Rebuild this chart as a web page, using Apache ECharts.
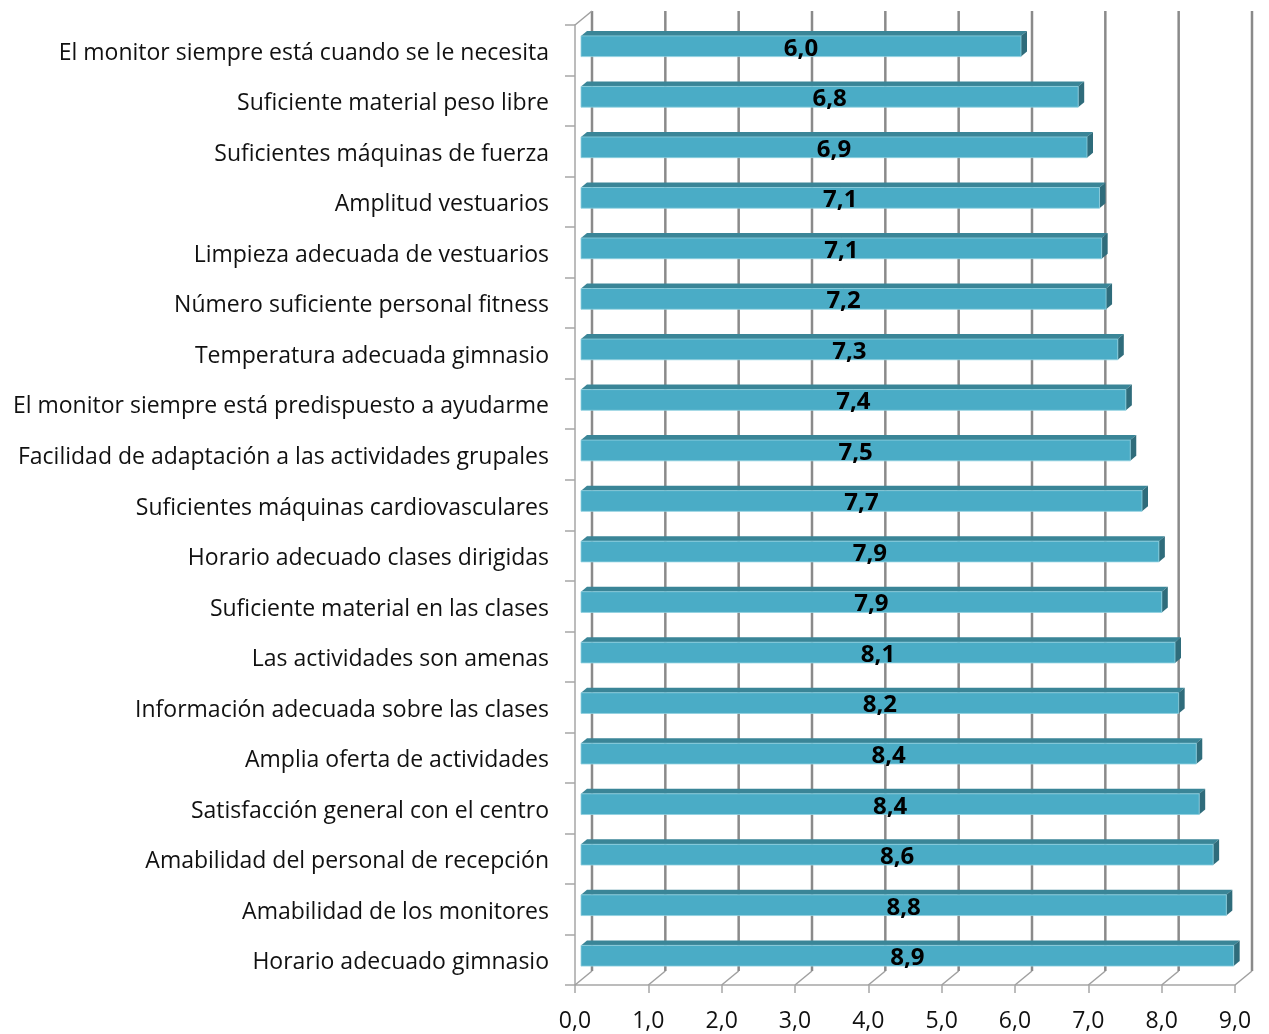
<!DOCTYPE html>
<html>
<head>
<meta charset="utf-8">
<script src="https://cdn.jsdelivr.net/npm/echarts@6/dist/echarts.min.js"></script>
<style>
  html, body { margin: 0; padding: 0; background: #fff; }
  #chart { width: 1269px; height: 1034px; }
</style>
</head>
<body>
<div id="chart"></div>
<script>
// Survey items, top to bottom
const categories = [
  'El monitor siempre está cuando se le necesita',
  'Suficiente material peso libre',
  'Suficientes máquinas de fuerza',
  'Amplitud vestuarios',
  'Limpieza adecuada de vestuarios',
  'Número suficiente personal fitness',
  'Temperatura adecuada gimnasio',
  'El monitor siempre está predispuesto a ayudarme',
  'Facilidad de adaptación a las actividades grupales',
  'Suficientes máquinas cardiovasculares',
  'Horario adecuado clases dirigidas',
  'Suficiente material en las clases',
  'Las actividades son amenas',
  'Información adecuada sobre las clases',
  'Amplia oferta de actividades',
  'Satisfacción general con el centro',
  'Amabilidad del personal de recepción',
  'Amabilidad de los monitores',
  'Horario adecuado gimnasio'
];

// Mean score per item (0-10 scale)
const scores = [6.00, 6.78, 6.90, 7.07, 7.10, 7.16, 7.32, 7.43, 7.49, 7.65,
                7.88, 7.92, 8.10, 8.15, 8.39, 8.43, 8.62, 8.80, 8.90];

// Value-axis ticks
const ticks = [0, 1, 2, 3, 4, 5, 6, 7, 8, 9];

const fmt = v => (Math.round(v * 10) / 10).toFixed(1).replace('.', ',');

// 3D look: depth offset of the back wall and of the bars
const WALL_DX = 17, WALL_DY = -14;
const BAR_DX = 6, BAR_DY = -4;

const FONT = '"Open Sans", "Noto Sans", sans-serif';

const chart = echarts.init(document.getElementById('chart'));

chart.setOption({
  animation: false,
  backgroundColor: '#ffffff',
  grid: { left: 575, right: 34, top: 25, bottom: 49, containLabel: false },
  xAxis: {
    type: 'value', min: 0, max: 9, interval: 1,
    axisLine: { show: true, lineStyle: { color: '#a6a6a6', width: 1.5 } },
    axisTick: { show: true, length: 8, lineStyle: { color: '#a6a6a6', width: 1.5 } },
    splitLine: { show: false },
    axisLabel: { formatter: v => fmt(v), fontSize: 23, color: '#111', fontFamily: FONT, margin: 25 }
  },
  yAxis: {
    type: 'category', data: categories, inverse: true,
    axisLine: { show: true, lineStyle: { color: '#a6a6a6', width: 1.5 } },
    axisTick: { show: true, length: 10, lineStyle: { color: '#a6a6a6', width: 1.5 } },
    axisLabel: {
      margin: 26,
      formatter: v => '{c|' + v + '}',
      rich: { c: { fontSize: 23, color: '#111', fontFamily: FONT, padding: [6, 0, 0, 0] } }
    }
  },
  series: [
    {
      // back wall gridlines with floor diagonals
      type: 'custom',
      z: 1,
      silent: true,
      data: ticks.map(t => [t]),
      renderItem: function (params, api) {
        const v = api.value(0);
        const front = api.coord([v, categories.length - 1]);
        const x = front[0];
        const gTop = params.coordSys.y;
        const gBottom = params.coordSys.y + params.coordSys.height;
        const bx = x + WALL_DX;
        const children = [
          { type: 'line', shape: { x1: bx, y1: gTop + WALL_DY, x2: bx, y2: gBottom + WALL_DY },
            style: { stroke: '#8a8a8a', lineWidth: 2.5 } },
          { type: 'line', shape: { x1: x, y1: gBottom, x2: bx, y2: gBottom + WALL_DY },
            style: { stroke: '#a0a0a0', lineWidth: 1.5 } }
        ];
        if (v === 0) {
          children.push({ type: 'line', shape: { x1: x, y1: gTop, x2: bx, y2: gTop + WALL_DY },
            style: { stroke: '#a0a0a0', lineWidth: 1.5 } });
        }
        return { type: 'group', children: children };
      }
    },
    {
      // 3D bars
      type: 'custom',
      z: 3,
      data: scores.map((s, i) => [s, i]),
      renderItem: function (params, api) {
        const v = api.value(0);
        const idx = api.value(1);
        const start = api.coord([0, idx]);
        const end = api.coord([v, idx]);
        const band = api.size([0, 1])[1];
        const h = band * 0.41;
        const x0 = start[0] + BAR_DX;
        const x1 = end[0] + BAR_DX;
        const cy = start[1] + BAR_DY;
        const top = cy - h / 2, bot = cy + h / 2;
        return {
          type: 'group',
          children: [
            { type: 'polygon', shape: { points: [[x0, top], [x0 + BAR_DX, top - 5], [x1 + BAR_DX, top - 5], [x1, top]] },
              style: { fill: '#3a8597' } },
            { type: 'polygon', shape: { points: [[x1, top], [x1 + BAR_DX, top - 5], [x1 + BAR_DX, bot - 5], [x1, bot]] },
              style: { fill: '#2f6c7b' } },
            { type: 'rect', shape: { x: x0, y: top, width: x1 - x0, height: h },
              style: { fill: '#4aacc6', stroke: '#8fd0e0', lineWidth: 0.8 } },
            { type: 'text', x: (x0 + x1) / 2, y: cy + 2.5,
              style: { text: fmt(v), fill: '#000', font: 'bold 24px ' + FONT, align: 'center', verticalAlign: 'middle' } }
          ]
        };
      }
    }
  ]
});
</script>
</body>
</html>
